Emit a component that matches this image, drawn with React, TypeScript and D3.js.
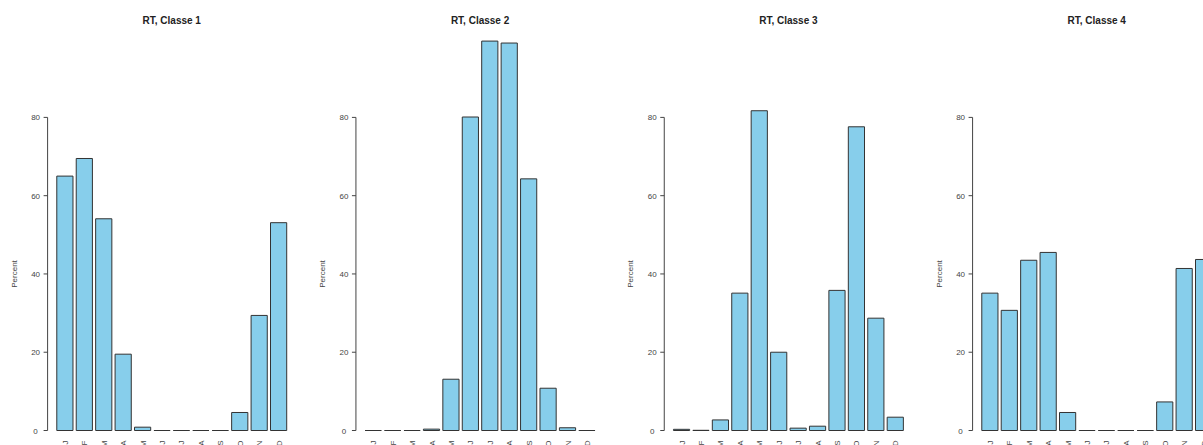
import React from "react";
import * as d3 from "d3";

const months = ["J", "F", "M", "A", "M", "J", "J", "A", "S", "O", "N", "D"];
const titles = ["RT, Classe 1", "RT, Classe 2", "RT, Classe 3", "RT, Classe 4"];
const classe1 = [65.0, 69.5, 54.1, 19.5, 0.85, 0, 0, 0, 0, 4.6, 29.4, 53.1];
const classe2 = [0, 0, 0, 0.35, 13.1, 80.1, 99.5, 99.0, 64.3, 10.8, 0.7, 0];
const classe3 = [0.3, 0.05, 2.7, 35.1, 81.7, 20.0, 0.6, 1.1, 35.8, 77.6, 28.7, 3.4];
const classe4 = [35.1, 30.7, 43.5, 45.5, 4.6, 0, 0, 0, 0, 7.3, 41.4, 43.7];
const yTicks = [0, 20, 40, 60, 80];

const series = [classe1, classe2, classe3, classe4];

const W = 1203;
const H = 445;
const panelW = 308.33;
const font = "'Liberation Sans', Arial, sans-serif";

function Panel({ values, title, offset }: { values: number[]; title: string; offset: number }) {
  const x = d3.scaleLinear().domain([-0.368, 14.968]).range([47.6, 295.9]);
  const y = d3.scaleLinear().domain([0, 80]).range([430.5, 117.4]);
  const axisX = x(-0.368);
  return (
    <g transform={`translate(${offset},0)`}>
      <text x={(x(-0.368) + x(14.968)) / 2} y={24} textAnchor="middle" fontFamily={font} fontSize={10} fontWeight="bold" fill="#222">
        {title}
      </text>
      <line x1={axisX} x2={axisX} y1={y(0)} y2={y(80)} stroke="#444" strokeWidth={1} />
      {yTicks.map((t) => (
        <g key={t}>
          <line x1={axisX - 4} x2={axisX} y1={y(t)} y2={y(t)} stroke="#444" strokeWidth={1} />
          <text x={axisX - 12} y={y(t) + 3} textAnchor="middle" fontFamily={font} fontSize={8} fill="#444">
            {t}
          </text>
        </g>
      ))}
      <text transform={`translate(${axisX - 31},${y(40)}) rotate(-90)`} textAnchor="middle" fontFamily={font} fontSize={8} fill="#444">
        Percent
      </text>
      {values.map((v, i) => {
        const x0 = x(0.2 + i * 1.2);
        const x1 = x(1.2 + i * 1.2);
        const y0 = y(0);
        const y1 = y(v);
        const d = `M${x0},${y0}L${x0},${y1}L${x1},${y1}L${x1},${y0}Z`;
        return <path key={i} d={d} fill="#87CEEB" stroke="#333" strokeWidth={1} />;
      })}
      {months.map((m, i) => {
        const cx = x(0.7 + i * 1.2);
        return (
          <text key={i} transform={`translate(${cx + 3},${440.5}) rotate(-90)`} textAnchor="end" fontFamily={font} fontSize={8} fill="#444">
            {m}
          </text>
        );
      })}
    </g>
  );
}

export default function App() {
  return (
    <svg width={W} height={H} style={{ position: "absolute", left: 0, top: 0, background: "#fff" }}>
      <rect width={W} height={H} fill="#fff" />
      {series.map((vals, i) => (
        <Panel key={i} values={vals} title={titles[i]} offset={i * panelW} />
      ))}
    </svg>
  );
}
